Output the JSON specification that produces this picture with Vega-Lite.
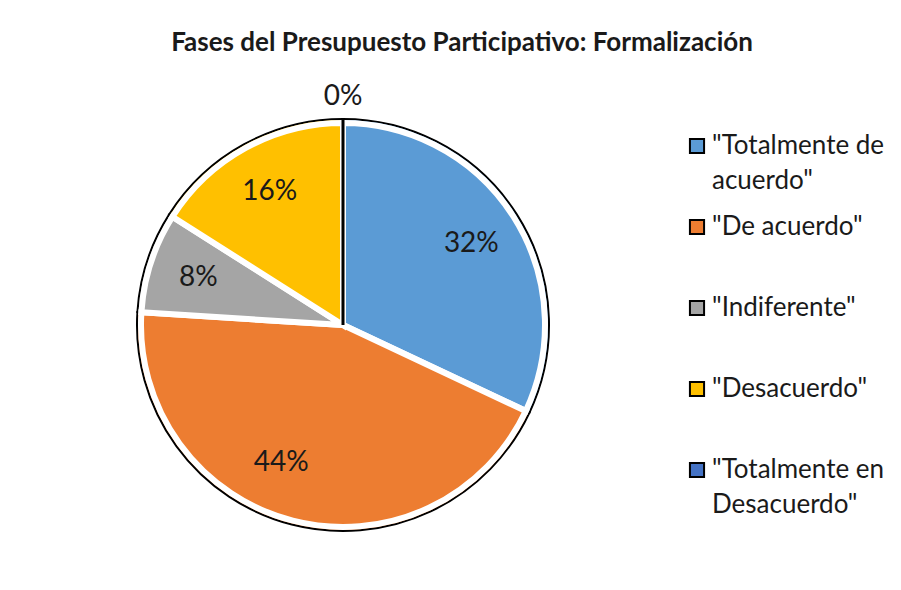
{
  "$schema": "https://vega.github.io/schema/vega-lite/v6.json",
  "width": 686,
  "height": 570,
  "autosize": {"type": "none"},
  "padding": {"left": 0, "top": 40, "right": 215, "bottom": 0},
  "background": "white",
  "title": {
    "text": "Fases del Presupuesto Participativo: Formalización",
    "font": "Lato",
    "fontSize": 26,
    "fontWeight": "bold",
    "color": "#1a1a1a",
    "anchor": "middle",
    "dx": 119,
    "offset": -16
  },
  "config": {"view": {"stroke": null}},
  "data": {
    "values": [
      {"categoria": "\"Totalmente de acuerdo\"", "porcentaje": 32, "etiqueta": "32%", "orden": 1},
      {"categoria": "\"De acuerdo\"", "porcentaje": 44, "etiqueta": "44%", "orden": 2},
      {"categoria": "\"Indiferente\"", "porcentaje": 8, "etiqueta": "8%", "orden": 3},
      {"categoria": "\"Desacuerdo\"", "porcentaje": 16, "etiqueta": "16%", "orden": 4},
      {"categoria": "\"Totalmente en Desacuerdo\"", "porcentaje": 0, "etiqueta": "0%", "orden": 5}
    ]
  },
  "encoding": {
    "theta": {"field": "porcentaje", "type": "quantitative", "stack": true},
    "order": {"field": "orden", "type": "quantitative"},
    "color": {
      "field": "categoria",
      "type": "nominal",
      "sort": null,
      "scale": {
        "domain": ["\"Totalmente de acuerdo\"", "\"De acuerdo\"", "\"Indiferente\"", "\"Desacuerdo\"", "\"Totalmente en Desacuerdo\""],
        "range": ["#5B9BD5", "#ED7D31", "#A5A5A5", "#FFC000", "#4472C4"]
      },
      "legend": {
        "title": null,
        "orient": "none",
        "legendX": 684,
        "legendY": 93,
        "symbolType": "square",
        "symbolSize": 200,
        "symbolStrokeColor": "black",
        "symbolStrokeWidth": 2,
        "symbolOpacity": 1,
        "labelFont": "Lato",
        "labelFontSize": 26,
        "labelColor": "#1a1a1a",
        "labelLimit": 300,
        "rowPadding": 20,
        "labelOffset": 2,
        "encode": {"labels": {"update": {"lineHeight": {"value": 35}}}},
        "labelExpr": "test(/Totalmente de/, datum.label) ? ['\"Totalmente de', 'acuerdo\"'] : test(/Totalmente en/, datum.label) ? ['\"Totalmente en', 'Desacuerdo\"'] : [datum.label, ' ']"
      }
    }
  },
  "layer": [
    {"mark": {"type": "arc", "radius": 206, "stroke": "black", "strokeWidth": 2}},
    {"mark": {"type": "arc", "radius": 202, "stroke": "white", "strokeWidth": 6}},
    {
      "mark": {"type": "arc", "radius": 206, "fillOpacity": 0, "stroke": "black", "strokeWidth": 3},
      "encoding": {
        "strokeOpacity": {"condition": {"test": "datum.porcentaje == 0", "value": 1}, "value": 0}
      }
    },
    {
      "mark": {"type": "text", "radius": 152, "font": "Lato", "fontSize": 28},
      "encoding": {
        "text": {"field": "etiqueta", "type": "nominal"},
        "color": {"value": "#1a1a1a"},
        "opacity": {"condition": {"test": "datum.porcentaje > 0 && datum.orden != 2", "value": 1}, "value": 0}
      }
    },
    {
      "mark": {"type": "text", "radius": 152, "font": "Lato", "fontSize": 28, "dx": -24, "dy": -9},
      "encoding": {
        "text": {"field": "etiqueta", "type": "nominal"},
        "color": {"value": "#1a1a1a"},
        "opacity": {"condition": {"test": "datum.orden == 2", "value": 1}, "value": 0}
      }
    },
    {
      "mark": {"type": "text", "radius": 228, "font": "Lato", "fontSize": 28},
      "encoding": {
        "text": {"field": "etiqueta", "type": "nominal"},
        "color": {"value": "#1a1a1a"},
        "opacity": {"condition": {"test": "datum.porcentaje == 0", "value": 1}, "value": 0}
      }
    }
  ]
}
